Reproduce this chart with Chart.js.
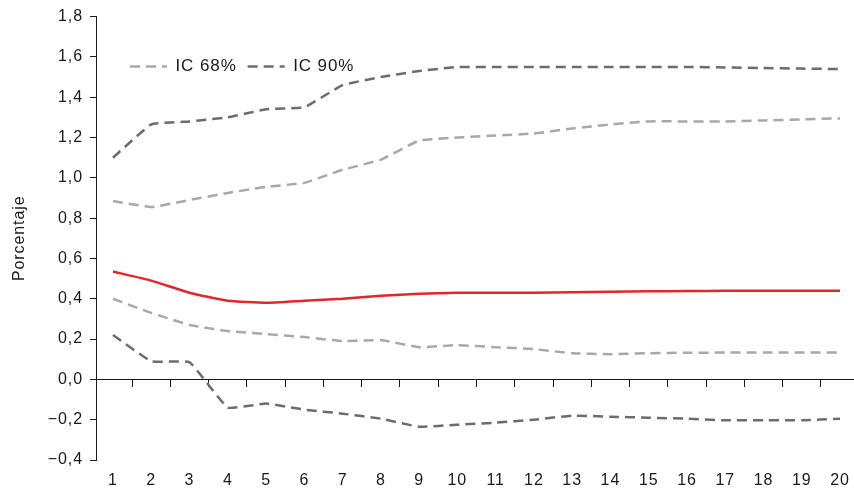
<!DOCTYPE html>
<html>
<head>
<meta charset="utf-8">
<script src="https://cdn.jsdelivr.net/npm/chart.js@4/dist/chart.umd.min.js"></script>
<style>
  html, body { margin: 0; padding: 0; background: #ffffff; }
  #wrap { width: 854px; height: 494px; }
</style>
</head>
<body>
<div id="wrap"><canvas id="chart" width="854" height="494"></canvas></div>
<script>
// Horizons (quarters) and response paths in percent
const categories = [1, 2, 3, 4, 5, 6, 7, 8, 9, 10, 11, 12, 13, 14, 15, 16, 17, 18, 19, 20];
const central   = [0.535, 0.49, 0.43, 0.39, 0.38, 0.39, 0.40, 0.415, 0.425, 0.43, 0.43, 0.43, 0.432, 0.435, 0.437, 0.438, 0.44, 0.44, 0.44, 0.44];
const ic68Upper = [0.885, 0.855, 0.89, 0.925, 0.955, 0.975, 1.04, 1.09, 1.185, 1.20, 1.21, 1.22, 1.245, 1.265, 1.28, 1.28, 1.28, 1.285, 1.29, 1.295];
const ic68Lower = [0.40, 0.33, 0.27, 0.24, 0.225, 0.21, 0.19, 0.195, 0.16, 0.17, 0.16, 0.15, 0.13, 0.125, 0.13, 0.132, 0.133, 0.133, 0.133, 0.133];
const ic90Upper = [1.10, 1.265, 1.28, 1.30, 1.34, 1.35, 1.46, 1.50, 1.53, 1.55, 1.55, 1.55, 1.55, 1.55, 1.55, 1.55, 1.548, 1.545, 1.542, 1.54];
const ic90Lower = [0.22, 0.09, 0.085, -0.14, -0.12, -0.15, -0.17, -0.195, -0.235, -0.225, -0.215, -0.20, -0.18, -0.185, -0.19, -0.195, -0.203, -0.203, -0.203, -0.195];
const yTicks = [-0.4, -0.2, 0, 0.2, 0.4, 0.6, 0.8, 1.0, 1.2, 1.4, 1.6, 1.8];
const legendNames = ['IC 68%', 'IC 90%'];

const FONT = "'Liberation Sans', Arial, Helvetica, sans-serif";
const FS = 16;
const INK = '#1a1a1a';
const RED = '#e3262c';
const LIGHT = '#a7a8ab';
const DARK = '#6b6c6f';
const DASH = [10, 6];

const pts = vals => categories.map((c, i) => ({ x: c, y: vals[i] }));
const fmt = v => {
  if (Math.abs(v) < 1e-9) return '0,0';
  const s = Math.abs(v).toFixed(1).replace('.', ',');
  return v < 0 ? '\u2212' + s : s;
};

const X_MIN = 0.556, X_MAX = 20.366;

// Slightly wider lettering for all chart text
const spacing = {
  id: 'spacing',
  beforeUpdate(chart) { chart.ctx.letterSpacing = '0.9px'; },
  beforeDraw(chart) { chart.ctx.letterSpacing = '0.9px'; }
};

// Lays the legend out in one row in the upper-left part of the plot area
const legendInside = {
  id: 'legendInside',
  beforeLayout(chart) {
    if (chart.legend) chart.legend.isHorizontal = () => true;
  },
  afterLayout(chart) {
    chart.legend.left = 119;
    chart.legend.top = 47;
  }
};

new Chart(document.getElementById('chart'), {
  type: 'line',
  data: {
    datasets: [
      { label: 'Central', data: pts(central), borderColor: RED, borderWidth: 2.5, pointRadius: 0, tension: 0.15 },
      { label: 'IC 68%', data: pts(ic68Upper), borderColor: LIGHT, backgroundColor: LIGHT, borderWidth: 2.5, borderDash: DASH, pointRadius: 0, tension: 0.1 },
      { label: 'IC 90%', data: pts(ic90Upper), borderColor: DARK, backgroundColor: DARK, borderWidth: 2.5, borderDash: DASH, pointRadius: 0, tension: 0.1 },
      { label: 'IC 68% (inf.)', data: pts(ic68Lower), borderColor: LIGHT, borderWidth: 2.5, borderDash: DASH, pointRadius: 0, tension: 0.1 },
      { label: 'IC 90% (inf.)', data: pts(ic90Lower), borderColor: DARK, borderWidth: 2.5, borderDash: DASH, pointRadius: 0, tension: 0.1 }
    ]
  },
  options: {
    responsive: false,
    animation: false,
    devicePixelRatio: 1,
    layout: { padding: { top: 16, right: 0, left: 0, bottom: 0 } },
    plugins: {
      tooltip: { enabled: false },
      legend: {
        position: 'chartArea',
        align: 'start',
        labels: {
          filter: item => legendNames.includes(item.text),
          // zero-height box: its outline becomes a dashed line sample
          boxWidth: 37,
          boxHeight: 0,
          padding: 11,
          color: INK,
          font: { family: FONT, size: 17 }
        }
      }
    },
    scales: {
      x: {
        type: 'linear',
        position: 'bottom',
        min: X_MIN,
        max: X_MAX,
        afterBuildTicks: s => { s.ticks = categories.map(v => ({ value: v })); },
        afterFit: s => { s.height = 34; },
        // hidden grid; its tick length only sets the gap above the labels
        grid: { display: false, drawTicks: true, tickLength: 11 },
        border: { display: false },
        ticks: { color: INK, padding: 0, maxRotation: 0, autoSkip: false, font: { family: FONT, size: FS }, callback: v => String(v) }
      },
      x2: {
        type: 'linear',
        position: { y: 0 },
        min: X_MIN,
        max: X_MAX,
        afterBuildTicks: s => { s.ticks = categories.slice(0, -1).map(v => ({ value: v + 0.5 })); },
        grid: { drawOnChartArea: false, drawTicks: true, tickLength: 7, color: INK, lineWidth: 1 },
        border: { display: true, color: INK, width: 1 },
        ticks: { display: false }
      },
      y: {
        type: 'linear',
        position: 'left',
        min: -0.4,
        max: 1.8,
        afterBuildTicks: s => { s.ticks = yTicks.map(v => ({ value: v })); },
        afterFit: s => { s.width = 96; },
        grid: { drawOnChartArea: false, drawTicks: true, tickLength: 6, color: INK, lineWidth: 1 },
        border: { display: true, color: INK, width: 1 },
        title: { display: true, text: 'Porcentaje', color: INK, font: { family: FONT, size: FS }, padding: { top: 10, bottom: 0 } },
        ticks: { color: INK, padding: 7, font: { family: FONT, size: FS }, callback: v => fmt(v) }
      }
    }
  },
  plugins: [spacing, legendInside]
});
</script>
</body>
</html>
